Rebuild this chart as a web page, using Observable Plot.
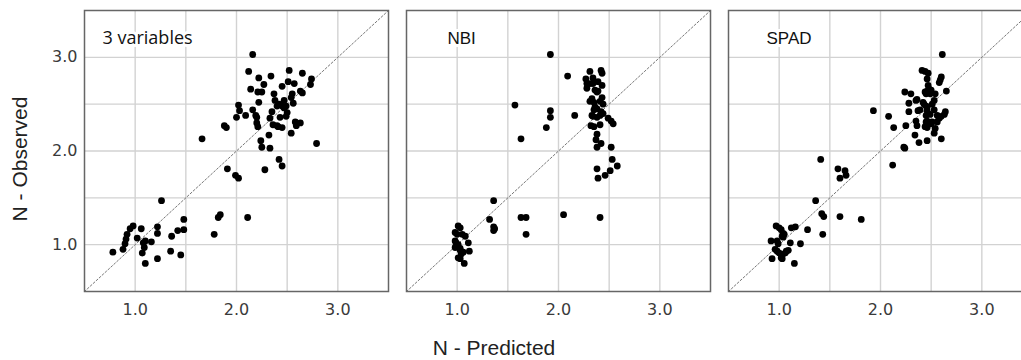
<!DOCTYPE html>
<html>
<head>
<meta charset="utf-8">
<script src="https://cdn.jsdelivr.net/npm/d3@7"></script>
<script src="https://cdn.jsdelivr.net/npm/@observablehq/plot@0.6"></script>
<style>
  html, body { margin: 0; padding: 0; background: #fff; overflow: hidden; }
  #wrap { position: relative; width: 1021px; height: 360px; overflow: hidden; }
  #chart { position: absolute; left: 0; top: 0; width: 1032px; height: 360px; }
  #chart svg { max-width: none !important; width: 1032px; height: 360px; }
  .axis-title { position: absolute; font-family: "Liberation Sans", Arial, sans-serif; font-size: 21px; color: #222; white-space: nowrap; }
  #ylab { left: 20px; top: 159px; transform: translate(-50%, -50%) rotate(-90deg); }
  #xlab { left: 494px; top: 348px; transform: translate(-50%, -50%); }
</style>
</head>
<body>
<div id="wrap">
  <div id="chart"></div>
  <div class="axis-title" id="ylab">N - Observed</div>
  <div class="axis-title" id="xlab">N - Predicted</div>
</div>
<script>
// ---- data ----
const panels = ["3 variables", "NBI", "SPAD"];

const pred3 = [2.16, 2.12, 2.52, 2.65, 2.22, 2.34, 2.74, 2.73, 2.51, 2.57, 2.45, 2.27, 2.14, 2.21, 2.25,
  2.63, 2.65, 2.55, 2.54, 2.37, 2.38, 2.22, 2.02, 2.03, 2.09, 2.00, 2.16, 2.19, 2.20, 2.20, 2.21,
  2.33, 2.35, 2.40, 2.42, 2.45, 2.47, 2.47, 2.49, 2.50, 2.49, 2.43, 2.56, 2.36, 2.40, 2.41, 2.45,
  2.58, 2.63, 2.59, 2.54, 2.32, 1.88, 1.90, 1.66, 2.24, 2.25, 2.33, 2.79, 2.42, 2.45, 1.91, 2.28,
  1.99, 2.02, 1.26, 1.84, 1.82, 2.11, 1.78, 1.48, 1.48, 1.42, 1.36, 1.22, 1.22, 1.06, 0.98, 0.95,
  0.92, 0.91, 0.90, 1.02, 1.10, 1.08, 1.16, 1.09, 1.07, 0.88, 0.78, 1.10, 1.22, 1.35, 1.45];
const obs3 = [3.03, 2.85, 2.86, 2.83, 2.78, 2.80, 2.77, 2.71, 2.74, 2.72, 2.69, 2.71, 2.66, 2.63, 2.63,
  2.64, 2.62, 2.61, 2.57, 2.61, 2.54, 2.52, 2.49, 2.43, 2.38, 2.36, 2.44, 2.38, 2.36, 2.30, 2.26,
  2.35, 2.42, 2.48, 2.50, 2.48, 2.54, 2.46, 2.48, 2.41, 2.37, 2.36, 2.51, 2.28, 2.27, 2.26, 2.25,
  2.31, 2.30, 2.27, 2.19, 2.17, 2.27, 2.25, 2.13, 2.11, 2.04, 2.03, 2.08, 1.91, 1.84, 1.81, 1.80,
  1.74, 1.71, 1.47, 1.32, 1.29, 1.29, 1.11, 1.27, 1.16, 1.15, 1.09, 1.19, 1.12, 1.17, 1.20, 1.17,
  1.11, 1.06, 1.01, 1.07, 1.04, 1.02, 1.03, 0.97, 0.91, 0.95, 0.92, 0.80, 0.85, 0.93, 0.89];

const predNBI = [1.92, 2.09, 2.31, 2.42, 2.43, 2.27, 2.34, 2.28, 2.28, 2.31, 2.34, 2.39, 2.43, 2.36, 2.38,
  2.39, 2.43, 2.31, 2.33, 2.35, 2.41, 2.44, 2.36, 2.38, 2.35, 2.42, 2.44, 2.33, 2.34, 2.41, 2.38,
  2.49, 2.52, 2.54, 2.32, 2.35, 2.41, 2.38, 2.37, 2.42, 2.38, 2.52, 1.57, 1.92, 1.92, 1.88, 2.16,
  1.63, 2.53, 2.58, 2.51, 2.46, 2.38, 2.39, 2.41, 2.05, 1.63, 1.68, 1.68, 1.36, 1.32, 1.36, 1.37,
  1.36, 1.01, 1.03, 0.98, 1.00, 1.05, 1.08, 0.98, 0.99, 1.01, 0.99, 0.98, 1.11, 1.03, 1.03, 1.06,
  1.04, 1.12, 1.01, 1.03, 1.07];
const obsNBI = [3.03, 2.80, 2.85, 2.86, 2.83, 2.77, 2.78, 2.72, 2.67, 2.72, 2.72, 2.74, 2.70, 2.65, 2.63,
  2.64, 2.57, 2.53, 2.56, 2.52, 2.53, 2.50, 2.47, 2.45, 2.44, 2.42, 2.40, 2.38, 2.37, 2.38, 2.36,
  2.35, 2.32, 2.29, 2.27, 2.26, 2.28, 2.18, 2.12, 2.08, 2.04, 2.04, 2.49, 2.43, 2.36, 2.25, 2.38,
  2.13, 1.91, 1.84, 1.79, 1.74, 1.81, 1.71, 1.29, 1.32, 1.29, 1.29, 1.11, 1.47, 1.27, 1.19, 1.17,
  1.15, 1.20, 1.18, 1.13, 1.11, 1.11, 1.09, 1.04, 1.02, 1.00, 0.98, 0.97, 1.02, 0.96, 0.94, 0.92,
  0.90, 0.93, 0.86, 0.85, 0.80];

const predSPAD = [2.61, 2.41, 2.44, 2.47, 2.46, 2.60, 2.59, 2.58, 2.47, 2.48, 2.46, 2.44, 2.45, 2.50, 2.49,
  2.54, 2.65, 2.24, 2.30, 2.36, 2.35, 2.28, 2.42, 2.43, 2.45, 2.46, 2.51, 2.53, 2.39, 2.37, 2.28,
  2.46, 2.49, 2.45, 2.53, 2.64, 2.63, 2.56, 2.58, 2.60, 1.93, 2.08, 2.13, 2.25, 2.35, 2.36, 2.45,
  2.46, 2.48, 2.50, 2.51, 2.44, 2.46, 2.54, 2.56, 2.34, 2.53, 2.60, 2.38, 2.46, 2.23, 2.24, 2.12,
  1.41, 1.58, 1.65, 1.66, 1.60, 1.36, 1.42, 1.44, 1.60, 1.81, 1.43, 1.28, 1.21, 1.15, 0.97, 1.00,
  1.02, 1.04, 1.05, 1.03, 1.04, 1.12, 1.16, 0.92, 0.98, 0.99, 1.11, 0.96, 0.98, 1.00, 1.02, 1.03,
  1.06, 1.07, 1.09, 1.02, 1.03, 0.93];
const obsSPAD = [3.03, 2.86, 2.85, 2.83, 2.77, 2.79, 2.76, 2.73, 2.70, 2.66, 2.64, 2.63, 2.61, 2.65, 2.61,
  2.61, 2.64, 2.63, 2.61, 2.55, 2.54, 2.51, 2.52, 2.50, 2.48, 2.47, 2.50, 2.54, 2.44, 2.43, 2.42,
  2.43, 2.39, 2.38, 2.44, 2.42, 2.39, 2.38, 2.35, 2.37, 2.43, 2.37, 2.25, 2.27, 2.32, 2.27, 2.31,
  2.32, 2.29, 2.29, 2.31, 2.26, 2.25, 2.24, 2.31, 2.17, 2.19, 2.13, 2.09, 2.11, 2.04, 2.03, 1.85,
  1.91, 1.81, 1.79, 1.74, 1.71, 1.47, 1.33, 1.30, 1.30, 1.27, 1.11, 1.16, 1.01, 0.80, 1.20, 1.18,
  1.16, 1.12, 1.11, 1.09, 1.08, 1.18, 1.19, 1.04, 1.04, 1.01, 1.02, 0.95, 0.93, 0.91, 0.90, 0.89,
  0.91, 0.93, 0.94, 0.86, 0.85, 0.85];

const axisDomain = [0.5, 3.5];
const tickValues = [1, 2, 3];
const tickLabels = ["1.0", "2.0", "3.0"];
const gridValues = [1, 1.5, 2, 2.5, 3];

// ---- build table ----
const preds = [pred3, predNBI, predSPAD];
const obss = [obs3, obsNBI, obsSPAD];
const rows = panels.flatMap((p, i) => preds[i].map((x, j) => ({panel: p, pred: x, obs: obss[i][j]})));

const labelDx = [18, 41, 38];
const labelSize = [18, 17, 17];

const chart = Plot.plot({
  width: 1032,
  height: 360,
  marginLeft: 84,
  marginRight: 0,
  marginTop: 10,
  marginBottom: 69,
  style: {fontFamily: "'DejaVu Sans', sans-serif", background: "white", overflow: "visible", maxWidth: "none"},
  fx: {domain: panels, paddingInner: 0.056, paddingOuter: 0, axis: null, label: null},
  x: {domain: axisDomain, label: null},
  y: {domain: axisDomain, label: null},
  marks: [
    Plot.gridX(gridValues, {stroke: "#d2d2d2", strokeOpacity: 1, strokeWidth: 1.4}),
    Plot.gridY(gridValues, {stroke: "#d2d2d2", strokeOpacity: 1, strokeWidth: 1.4}),
    Plot.line(axisDomain, {x: d => d, y: d => d, stroke: "#777", strokeWidth: 1, strokeDasharray: "2,2"}),
    Plot.dot(rows, {fx: "panel", x: "pred", y: "obs", r: 3.4, fill: "black", stroke: "none"}),
    ...panels.map((p, i) => Plot.text([p], {
      fx: d => d, text: d => d, frameAnchor: "top-left", textAnchor: "start", lineAnchor: "middle",
      dx: labelDx[i], dy: 28, fontSize: labelSize[i], fill: "#111",
      fontFamily: i === 0 ? "'Open Sans', sans-serif" : "'Liberation Sans', Arial, sans-serif",
      stroke: "white", strokeWidth: 6, paintOrder: "stroke"
    })),
    Plot.frame({stroke: "#666", strokeWidth: 1.5}),
    Plot.axisX(tickValues, {tickSize: 0, tickPadding: 12, fontSize: 16, fill: "#3a3a3a",
      tickFormat: d => tickLabels[tickValues.indexOf(d)], label: null}),
    Plot.axisY(tickValues, {tickSize: 0, tickPadding: 7, fontSize: 16, fill: "#3a3a3a",
      tickFormat: d => tickLabels[tickValues.indexOf(d)], label: null})
  ]
});
document.getElementById("chart").appendChild(chart);
</script>
</body>
</html>
